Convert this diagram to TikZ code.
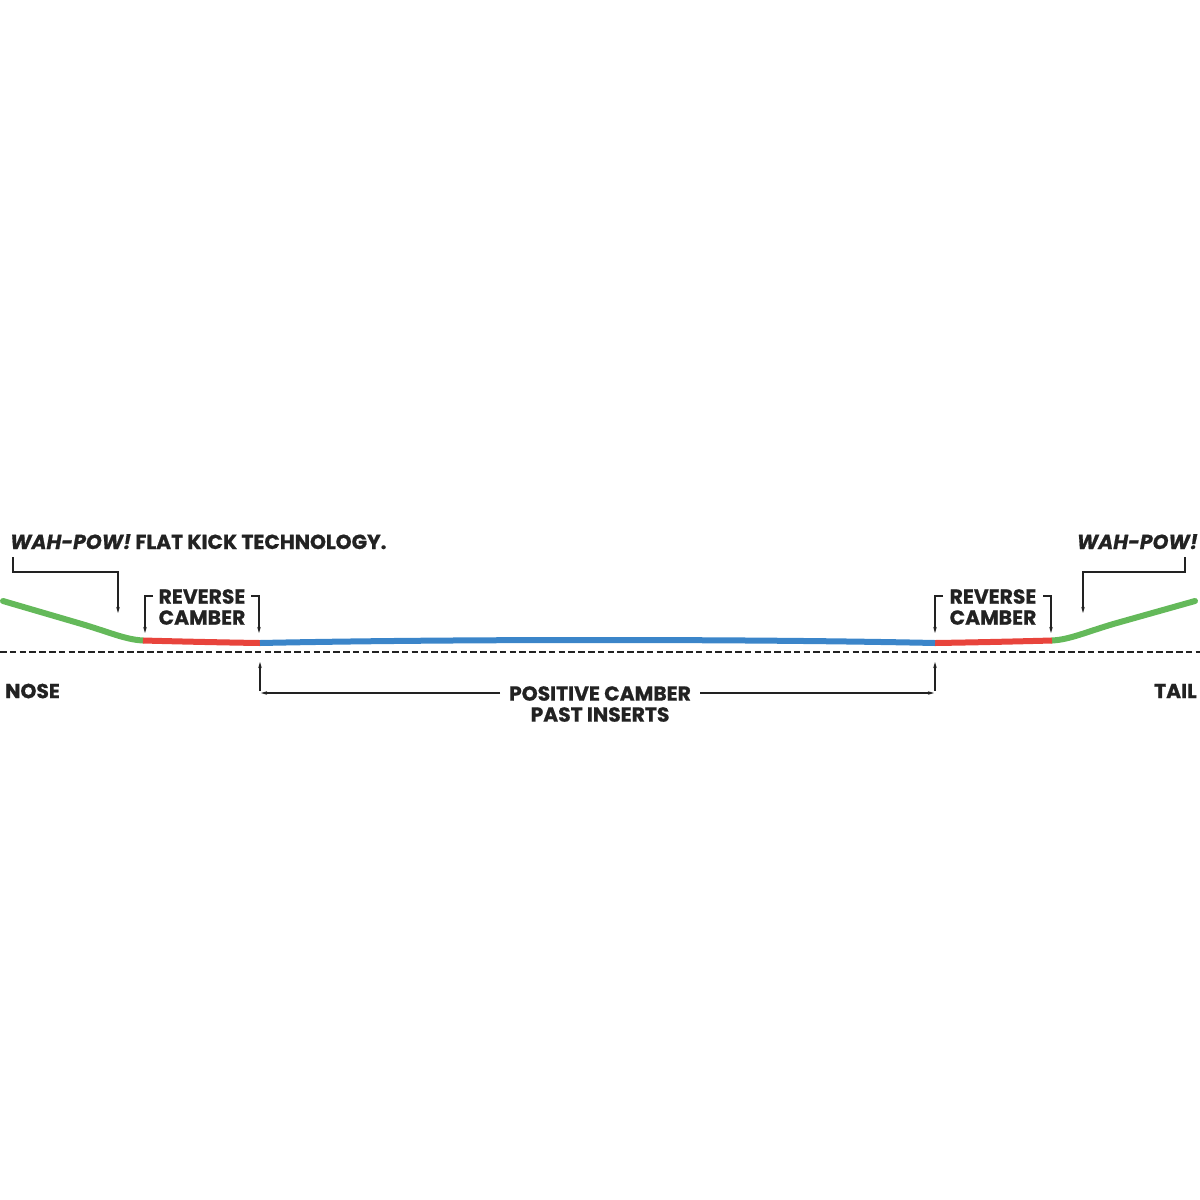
\documentclass[tikz,border=0pt]{standalone}
\usepackage{fontspec}
\setmainfont{Poppins}[BoldFeatures={FakeBold=0.8}, BoldItalicFeatures={FakeBold=0.8}]
\usetikzlibrary{arrows.meta}
\definecolor{kgreen}{HTML}{64B95A}
\definecolor{kred}{HTML}{E8443C}
\definecolor{kblue}{HTML}{3B85C9}
\definecolor{ink}{HTML}{222222}
\tikzset{
  lbl/.style={font=\fontsize{20.3}{22}\selectfont\bfseries, text=ink, inner sep=0pt},
  callout/.style={draw=ink, line width=1.6pt, -{Stealth[length=6pt,width=3.5pt]}},
  board/.style={line width=6pt, line cap=butt},
}
\begin{document}
\begin{tikzpicture}[x=1pt,y=-1pt]
\useasboundingbox (0,0) rectangle (1200,1200);
% dashed base line
\coordinate (bl) at (0,652);
\coordinate (br) at (1200,652);
\draw[ink, line width=2pt, dash pattern=on 6.5pt off 3.3pt] (bl) -- (br);
% board
\coordinate (p0) at (3,601);
\coordinate (p1) at (143,640.5);
\coordinate (p2) at (260,643);
\coordinate (p3) at (935,643);
\coordinate (p4) at (1052,640.5);
\coordinate (p5) at (1195,601);
\draw[board, kgreen, line cap=round] (p0) -- (80,623.5) .. controls (110,632.3) and (125,639.5) .. (p1);
\draw[board, kgreen, line cap=round] (p5) -- (1115,623.5) .. controls (1085,632.3) and (1070,639.5) .. (p4);
\draw[board, kred] (p1) .. controls (180,641.5) and (225,642.5) .. (p2);
\draw[board, kred] (p4) .. controls (1015,641.5) and (970,642.5) .. (p3);
\draw[board, kblue] (p2) .. controls (450,639) and (750,639) .. (p3);
% top labels
\node[lbl, anchor=base west] (wahL) at (10,549) {\textit{WAH-POW!} FLAT KICK TECHNOLOGY.};
\node[lbl, anchor=base east] (wahR) at (1198,549) {\textit{WAH-POW!}};
\coordinate (aL) at (118,613);
\coordinate (aR) at (1083,613);
\draw[callout] (13,557) -- (13,572) -- (118,572) -- (aL);
\draw[callout] (1185,557) -- (1185,572) -- (1083,572) -- (aR);
% reverse camber labels
\node[lbl, align=center] (rcL) at (202,607) {REVERSE\\[-1pt]CAMBER};
\node[lbl, align=center] (rcR) at (993,607) {REVERSE\\[-1pt]CAMBER};
\draw[callout] (153,596) -- (145,596) -- (145,633);
\draw[callout] (251,596) -- (259,596) -- (259,633);
\draw[callout] (943,596) -- (935,596) -- (935,633);
\draw[callout] (1043,596) -- (1051,596) -- (1051,633);
% bottom
\node[lbl, anchor=west] (nose) at (5,691) {NOSE};
\node[lbl, anchor=east] (tail) at (1197,691) {TAIL};
\node[lbl, align=center] (pos) at (600,704) {POSITIVE CAMBER\\[-1pt]PAST INSERTS};
\draw[callout] (260,691) -- (260,662);
\draw[callout] (935,691) -- (935,662);
\draw[callout] (500,693) -- (261,693);
\draw[callout] (700,693) -- (934,693);
\end{tikzpicture}
\end{document}
